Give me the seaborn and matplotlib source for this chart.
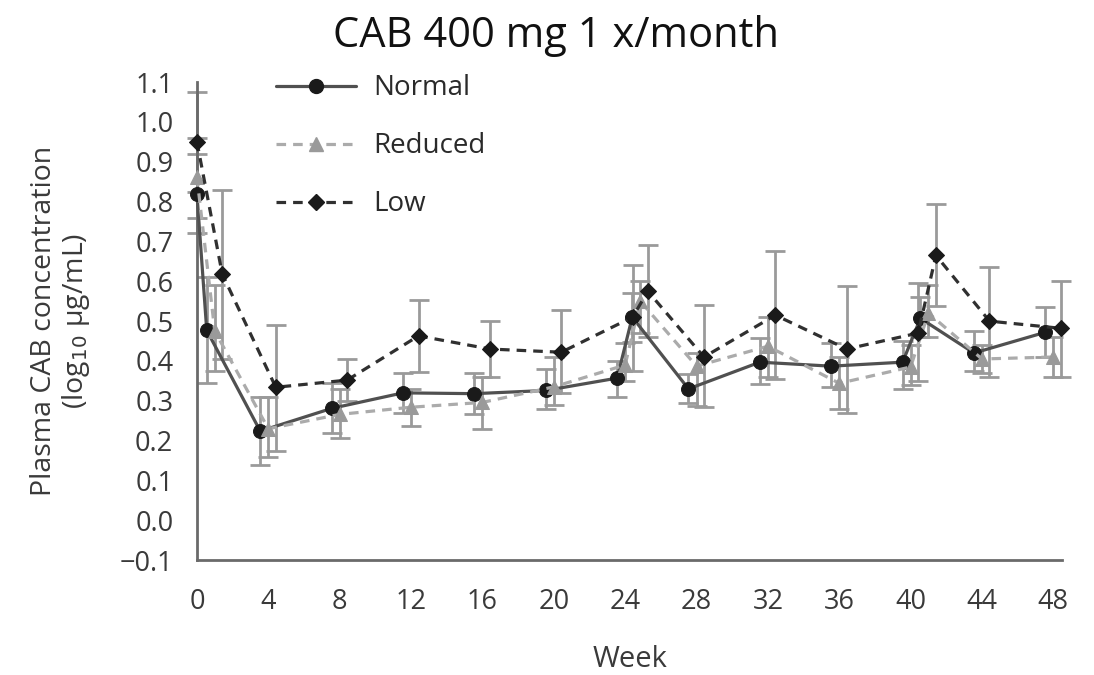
import numpy as np
import pandas as pd
import matplotlib
matplotlib.use("Agg")
import matplotlib.pyplot as plt
import seaborn as sns
from matplotlib.lines import Line2D

# Sampling weeks (second visit after the week-24 dose plotted just after it)
weeks = [0, 1, 4, 8, 12, 16, 20, 24, 24.85, 28, 32, 36, 40, 41, 44, 48]
groups = ["Normal", "Reduced", "Low"]

# Mean log10 concentration with lower / upper error limits per group
normal_mean = [0.82, 0.477, 0.224, 0.281, 0.32, 0.318, 0.326, 0.357, 0.51, 0.33, 0.397, 0.387, 0.397, 0.507, 0.42, 0.472]
normal_lo   = [0.72, 0.345, 0.138, 0.22, 0.27, 0.268, 0.28, 0.31, 0.447, 0.294, 0.342, 0.334, 0.33, 0.46, 0.375, 0.41]
normal_hi   = [0.92, 0.61, 0.31, 0.345, 0.37, 0.37, 0.38, 0.40, 0.57, 0.367, 0.457, 0.445, 0.45, 0.56, 0.475, 0.535]

reduced_mean = [0.862, 0.475, 0.23, 0.266, 0.284, 0.296, 0.335, 0.39, 0.55, 0.387, 0.437, 0.344, 0.385, 0.52, 0.405, 0.41]
reduced_lo   = [0.76, 0.375, 0.16, 0.206, 0.236, 0.23, 0.29, 0.35, 0.47, 0.286, 0.36, 0.28, 0.34, 0.46, 0.37, 0.36]
reduced_hi   = [0.96, 0.59, 0.31, 0.33, 0.33, 0.36, 0.41, 0.445, 0.60, 0.42, 0.51, 0.41, 0.44, 0.59, 0.44, 0.46]

low_mean = [0.95, 0.618, 0.334, 0.352, 0.463, 0.43, 0.422, 0.51, 0.575, 0.41, 0.515, 0.43, 0.47, 0.665, 0.50, 0.482]
low_lo   = [0.825, 0.405, 0.175, 0.30, 0.372, 0.36, 0.32, 0.376, 0.46, 0.284, 0.354, 0.27, 0.35, 0.538, 0.36, 0.36]
low_hi   = [1.075, 0.83, 0.49, 0.405, 0.553, 0.50, 0.527, 0.642, 0.69, 0.54, 0.676, 0.588, 0.595, 0.793, 0.635, 0.60]

x_ticks = list(range(0, 49, 4))
y_ticks = [round(v, 1) for v in np.arange(-0.1, 1.11, 0.1)]

means = {"Normal": normal_mean, "Reduced": reduced_mean, "Low": low_mean}
lows = {"Normal": normal_lo, "Reduced": reduced_lo, "Low": low_lo}
highs = {"Normal": normal_hi, "Reduced": reduced_hi, "Low": low_hi}

# Horizontal dodge so the three groups do not overlap
dodge = {"Normal": -0.45, "Reduced": 0.0, "Low": 0.42}

rows = []
for g in groups:
    for w, m, lo, hi in zip(weeks, means[g], lows[g], highs[g]):
        xpos = w + dodge[g] if w > 0 else 0.0
        rows.append({"group": g, "x": xpos, "conc": m, "lo": lo, "hi": hi})
df = pd.DataFrame(rows)

sns.set_theme(style="white")
plt.rcParams["font.family"] = ["Open Sans", "DejaVu Sans"]

line_col = {"Normal": "#505050", "Reduced": "#ababab", "Low": "#303030"}
mark_col = {"Normal": "#1a1a1a", "Reduced": "#9a9a9a", "Low": "#1a1a1a"}
markers = {"Normal": "o", "Reduced": "^", "Low": "D"}
dashes = {"Normal": "", "Reduced": (3, 2.2), "Low": (3, 2.2)}
msize = {"Normal": 10, "Reduced": 10, "Low": 8}

fig = plt.figure(figsize=(10.94, 6.75), dpi=100)
ax = fig.add_axes([0.18, 0.170, 0.791, 0.7085])

# Error bars in grey underneath the mean profiles
for g in groups:
    d = df[df.group == g]
    yerr = np.vstack([d.conc - d.lo, d.hi - d.conc])
    ax.errorbar(d.x, d.conc, yerr=yerr, fmt="none", ecolor="#9a9a9a",
                elinewidth=2, capsize=7, capthick=2, zorder=1, clip_on=False)

sns.lineplot(data=df, x="x", y="conc", hue="group", style="group",
             hue_order=groups, style_order=groups, palette=line_col,
             markers=markers, dashes=dashes, linewidth=2.3,
             errorbar=None, legend=False, ax=ax, zorder=3)

for line, g in zip(ax.lines[-3:], groups):
    line.set_markerfacecolor(mark_col[g])
    line.set_markeredgecolor(mark_col[g])
    line.set_markersize(msize[g])
    line.set_clip_on(False)

ax.set_xlim(0, 48.5)
ax.set_ylim(-0.1, 1.1)
ax.set_xticks(x_ticks)
ax.set_yticks(y_ticks)
ax.set_yticklabels([f"{v:.1f}".replace("-", "\u2212") for v in y_ticks])

for side in ["top", "right"]:
    ax.spines[side].set_visible(False)
for side in ["left", "bottom"]:
    ax.spines[side].set_color("#6a6a6a")
    ax.spines[side].set_linewidth(2)

ax.tick_params(axis="both", which="major", direction="out", width=2,
               color="#6a6a6a", labelsize=19.5, labelcolor="#3a3a3a")
ax.tick_params(axis="y", length=8, pad=9)
ax.tick_params(axis="x", length=6, pad=14)

ax.set_xlabel("Week", fontsize=21, color="#3a3a3a", labelpad=21)
ax.set_ylabel("Plasma CAB concentration\n(log$_{10}$ \u00b5g/mL)", fontsize=20.5,
              color="#3a3a3a", labelpad=20, linespacing=1.1)

fig.suptitle("CAB 400 mg 1 x/month", fontsize=30, x=0.508, y=0.978,
             color="#111111", va="top")

handles = [Line2D([0], [0], color=line_col[g], lw=2.3,
                  linestyle="-" if g == "Normal" else (0, (3, 2.2)),
                  marker=markers[g], markersize=msize[g],
                  markerfacecolor=mark_col[g], markeredgecolor=mark_col[g])
           for g in groups]
leg = ax.legend(handles, groups, loc="upper left", bbox_to_anchor=(0.062, 1.068),
                frameon=False, fontsize=20, handlelength=2.9, labelspacing=1.08,
                handletextpad=0.62)
for t in leg.get_texts():
    t.set_color("#2a2a2a")

fig.savefig("out.png", dpi=100)
